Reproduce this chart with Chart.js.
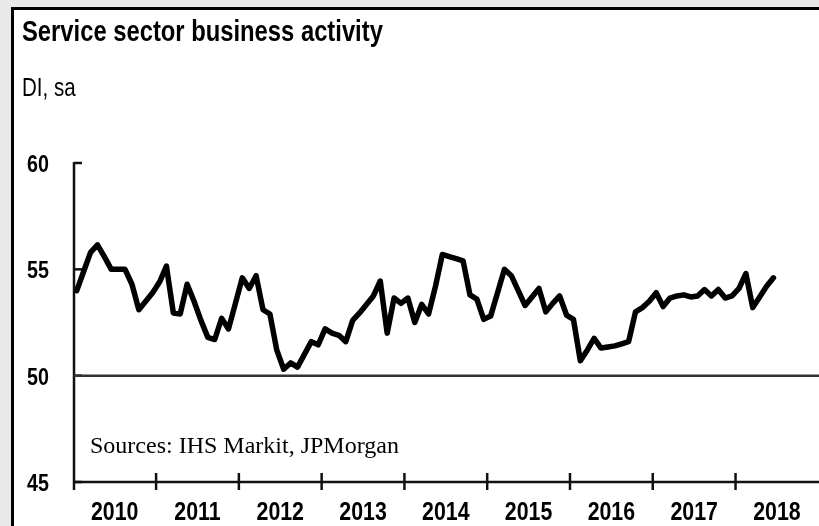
<!DOCTYPE html>
<html>
<head>
<meta charset="utf-8">
<script src="https://cdn.jsdelivr.net/npm/chart.js@4.4.1/dist/chart.umd.min.js"></script>
<style>
  html, body { margin: 0; padding: 0; overflow: hidden; }
  #wrap { position: relative; width: 819px; height: 526px; background: #e9e9e9; overflow: hidden; }
  #frame { position: absolute; left: 11px; top: 7px; width: 830px; height: 540px; background: #fff;
           border-left: 3px solid #000; border-top: 3px solid #000; }
  canvas { position: absolute; left: 0; top: 0; }
  .txt { position: absolute; color: #000; white-space: nowrap; line-height: 1; transform-origin: 0 0; }
  .narrow { transform: scaleX(0.82); }
  #title { left: 22px; top: 15px; font: bold 29px "Liberation Sans", Arial, sans-serif; }
  #sub { left: 22px; top: 73px; font: 25px "Liberation Sans", Arial, sans-serif; }
  #src { left: 90px; top: 432px; font: 24px "Liberation Serif", "Times New Roman", serif; }
</style>
</head>
<body>
<div id="wrap">
  <div id="frame"></div>
  <canvas id="c" width="819" height="526"></canvas>
  <div class="txt narrow" id="title">Service sector business activity</div>
  <div class="txt narrow" id="sub">DI, sa</div>
  <div class="txt" id="src">Sources: IHS Markit, JPMorgan</div>
</div>
<script>
// Monthly service sector business activity DI, Jan 2010 .. Jun 2018
const years = ['2010','2011','2012','2013','2014','2015','2016','2017','2018'];
const yTickLabels = ['45','50','55','60'];
const yTickValues = [45, 50, 55, 60];
const values = [
  54.0, 54.9, 55.8, 56.15, 55.6, 55.0, 55.0, 55.0, 54.3, 53.1, 53.5, 53.9,   // 2010
  54.4, 55.15, 52.95, 52.9, 54.3, 53.5, 52.6, 51.8, 51.7, 52.7, 52.2, 53.4,  // 2011
  54.6, 54.1, 54.7, 53.1, 52.9, 51.2, 50.3, 50.6, 50.4, 51.0, 51.6, 51.45,   // 2012
  52.2, 52.0, 51.9, 51.6, 52.6, 52.95, 53.35, 53.75, 54.45, 52.0, 53.65, 53.4, // 2013
  53.65, 52.5, 53.35, 52.9, 54.2, 55.7, 55.6, 55.5, 55.4, 53.8, 53.6, 52.65, // 2014
  52.8, 53.9, 55.0, 54.7, 54.0, 53.3, 53.7, 54.1, 53.0, 53.4, 53.75, 52.85,  // 2015
  52.65, 50.7, 51.2, 51.75, 51.3, 51.35, 51.4, 51.5, 51.6, 53.0, 53.2, 53.5, // 2016
  53.9, 53.25, 53.65, 53.75, 53.8, 53.7, 53.75, 54.05, 53.75, 54.05, 53.65, 53.75, // 2017
  54.1, 54.8, 53.2, 53.7, 54.2, 54.6                                         // 2018
];

const points = values.map((v, i) => ({ x: i, y: v }));
const NARROW = 0.82;

function narrowText(ctx, text, px, py, align) {
  ctx.save();
  ctx.translate(px, py);
  ctx.scale(NARROW, 1);
  ctx.textAlign = align;
  ctx.fillText(text, 0, 0);
  ctx.restore();
}

const axisPlugin = {
  id: 'customAxes',
  beforeDatasetsDraw(chart) {
    const { ctx, scales: { x, y }, chartArea } = chart;
    const x0 = chartArea.left, x1 = chartArea.right;
    const yTop = y.getPixelForValue(60), yBot = y.getPixelForValue(45);
    ctx.save();
    ctx.strokeStyle = '#111';
    ctx.lineWidth = 2.5;
    ctx.lineCap = 'butt';
    // y axis
    ctx.beginPath();
    ctx.moveTo(x0, yTop - 1);
    ctx.lineTo(x0, yBot + 8);
    ctx.stroke();
    // y ticks (inward)
    yTickValues.forEach(v => {
      const py = y.getPixelForValue(v);
      ctx.beginPath();
      ctx.moveTo(x0, py);
      ctx.lineTo(x0 + 8, py);
      ctx.stroke();
    });
    // 50 reference line
    ctx.strokeStyle = '#333';
    ctx.beginPath();
    ctx.moveTo(x0, y.getPixelForValue(50));
    ctx.lineTo(x1, y.getPixelForValue(50));
    ctx.stroke();
    // x axis
    ctx.strokeStyle = '#111';
    ctx.beginPath();
    ctx.moveTo(x0, yBot);
    ctx.lineTo(x1, yBot);
    ctx.stroke();
    // year boundary ticks
    for (let k = 1; k < years.length; k++) {
      const px = x.getPixelForValue(k * 12 - 0.5);
      ctx.beginPath();
      ctx.moveTo(px, yBot - 9);
      ctx.lineTo(px, yBot + 8);
      ctx.stroke();
    }
    // labels
    ctx.fillStyle = '#000';
    ctx.textBaseline = 'alphabetic';
    ctx.font = 'bold 24px "Liberation Sans", Arial, sans-serif';
    yTickValues.forEach((v, i) => {
      narrowText(ctx, yTickLabels[i], 49, y.getPixelForValue(v) + 9, 'right');
    });
    ctx.font = 'bold 26px "Liberation Sans", Arial, sans-serif';
    years.forEach((lab, k) => {
      narrowText(ctx, lab, x.getPixelForValue(k * 12 + 5.5), 520, 'center');
    });
    ctx.restore();
  }
};

new Chart(document.getElementById('c'), {
  type: 'line',
  data: {
    datasets: [{
      data: points,
      borderColor: '#000',
      borderWidth: 5.5,
      pointRadius: 0,
      tension: 0,
      borderJoinStyle: 'round',
      borderCapStyle: 'round',
      fill: false,
      clip: false
    }]
  },
  options: {
    responsive: false,
    animation: false,
    devicePixelRatio: 1,
    layout: { padding: { left: 74, right: 0, top: 163, bottom: 44 } },
    plugins: { legend: { display: false }, tooltip: { enabled: false }, title: { display: false } },
    scales: {
      x: { type: 'linear', min: -0.4, max: 107.6, display: false },
      y: { type: 'linear', min: 45, max: 60, display: false }
    }
  },
  plugins: [axisPlugin]
});
</script>
</body>
</html>
